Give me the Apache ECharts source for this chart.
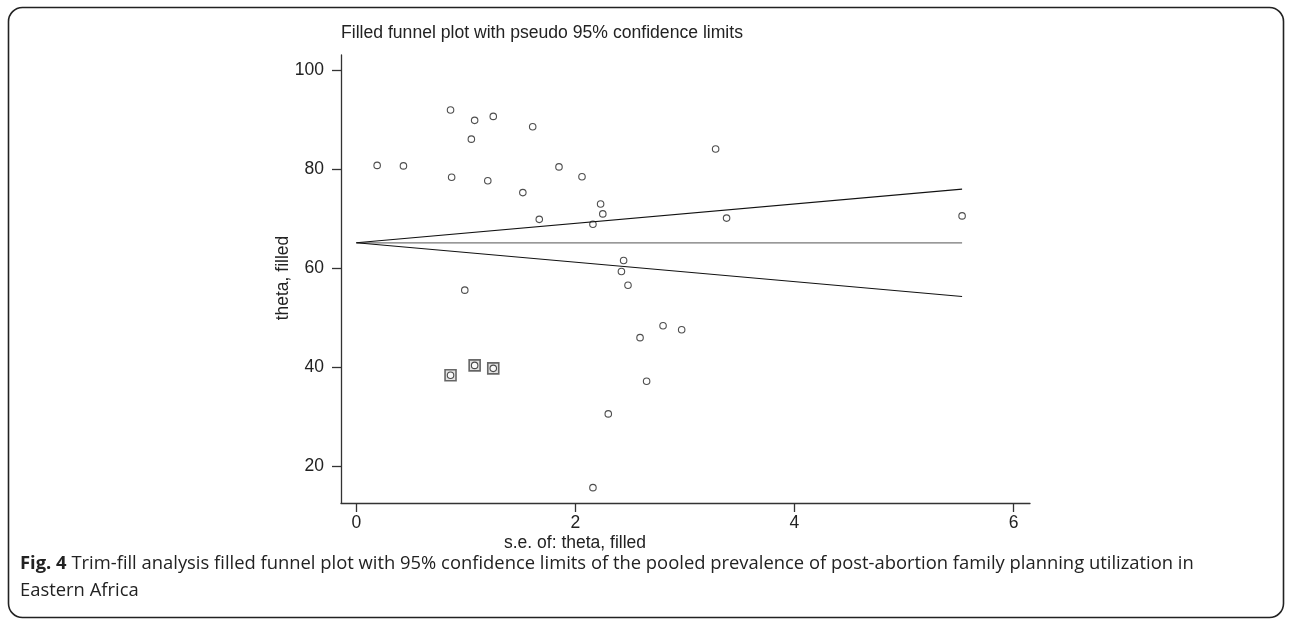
<!DOCTYPE html>
<html>
<head>
<meta charset="utf-8">
<script src="https://cdn.jsdelivr.net/npm/echarts@6/dist/echarts.min.js"></script>
<style>
html,body{margin:0;padding:0;background:#fff;}
#chart{width:1292px;height:622px;}
</style>
</head>
<body>
<div id="chart"></div>
<script>
// Observed studies (s.e., theta)
const seObserved = [0.19,0.43,0.86,1.08,1.25,1.05,1.61,0.87,1.20,1.85,2.06,1.52,1.67,2.23,2.25,2.16,2.44,2.42,2.48,0.99,3.28,3.38,5.53,2.80,2.97,2.59,2.65,2.30,2.16];
const thetaObserved = [80.7,80.6,91.9,89.8,90.6,86.0,88.5,78.3,77.6,80.4,78.4,75.2,69.8,72.9,70.9,68.8,61.5,59.25,56.5,55.5,84.0,70.05,70.5,48.3,47.5,45.9,37.1,30.5,15.6];
// Imputed (filled) studies
const seFilled = [0.86,1.08,1.25];
const thetaFilled = [38.3,40.3,39.7];
// Pseudo 95% confidence limits
const limitSe = [0, 5.53];
const limitUpper = [65.06, 75.9];
const limitLower = [65.06, 54.22];
const limitCenter = [65.06, 65.06];
// Tick labels
const xTicks = [0,2,4,6];
const yTicks = [20,40,60,80,100];

const zip = (a,b) => a.map((v,i)=>[v,b[i]]);
const font = '"Liberation Sans", Arial, sans-serif';

const chart = echarts.init(document.getElementById('chart'), null, {renderer:'canvas'});
const lineSty = {color:'#333', width:1.3};
chart.setOption({
  animation:false,
  backgroundColor:'#fff',
  grid:{left:341, right:262, top:55, bottom:119, containLabel:false},
  xAxis:{
    type:'value', min:-0.14, max:6.15,
    axisLine:{show:true, onZero:false, lineStyle:lineSty},
    axisTick:{show:true, length:9, lineStyle:lineSty, customValues:xTicks},
    axisLabel:{color:'#222', fontSize:17.5, fontFamily:font, customValues:xTicks, margin:11},
    splitLine:{show:false}
  },
  yAxis:{
    type:'value', min:12.5, max:103,
    axisLine:{show:true, onZero:false, lineStyle:lineSty},
    axisTick:{show:true, length:9, lineStyle:lineSty, customValues:yTicks},
    axisLabel:{color:'#222', fontSize:17.5, fontFamily:font, customValues:yTicks, margin:17},
    splitLine:{show:false}
  },
  series:[
    {type:'line', data:zip(limitSe, limitCenter), symbol:'none', lineStyle:{color:'#777', width:1.3}, silent:true},
    {type:'line', data:zip(limitSe, limitUpper), symbol:'none', lineStyle:{color:'#111', width:1.1}, silent:true},
    {type:'line', data:zip(limitSe, limitLower), symbol:'none', lineStyle:{color:'#111', width:1.1}, silent:true},
    {type:'scatter', data:zip(seFilled, thetaFilled), symbol:'rect', symbolSize:11,
      itemStyle:{color:'#ddd', borderColor:'#444', borderWidth:1.6}},
    {type:'scatter', data:zip(seObserved.concat(seFilled), thetaObserved.concat(thetaFilled)), symbol:'circle', symbolSize:6.5,
      itemStyle:{color:'#fff', borderColor:'#222', borderWidth:1.1}}
  ],
  graphic:[
    {type:'rect', shape:{x:8.5, y:7.5, width:1275, height:610, r:14}, style:{fill:'none', stroke:'#222', lineWidth:1.6}, silent:true},
    {type:'text', left:341, top:24, style:{text:'Filled funnel plot with pseudo 95% confidence limits', fontSize:17.6, fontFamily:font, fill:'#222'}},
    {type:'text', x:283, y:278, rotation:Math.PI/2, style:{text:'theta, filled', fontSize:17.5, fontFamily:font, fill:'#222', align:'center', verticalAlign:'middle'}},
    {type:'text', x:575, y:543, style:{text:'s.e. of: theta, filled', fontSize:17.5, fontFamily:font, fill:'#222', align:'center', verticalAlign:'middle'}},
    {type:'text', left:20, top:550, style:{
      text:'{b|Fig. 4} Trim-fill analysis filled funnel plot with 95% confidence limits of the pooled prevalence of post-abortion family planning utilization in\nEastern Africa',
      fontSize:18.4, lineHeight:27, fontFamily:'"Open Sans", sans-serif', fill:'#222',
      rich:{b:{fontWeight:'bold', fontSize:18.4, fontFamily:'"Open Sans", sans-serif', fill:'#222'}}
    }}
  ]
});
</script>
</body>
</html>
